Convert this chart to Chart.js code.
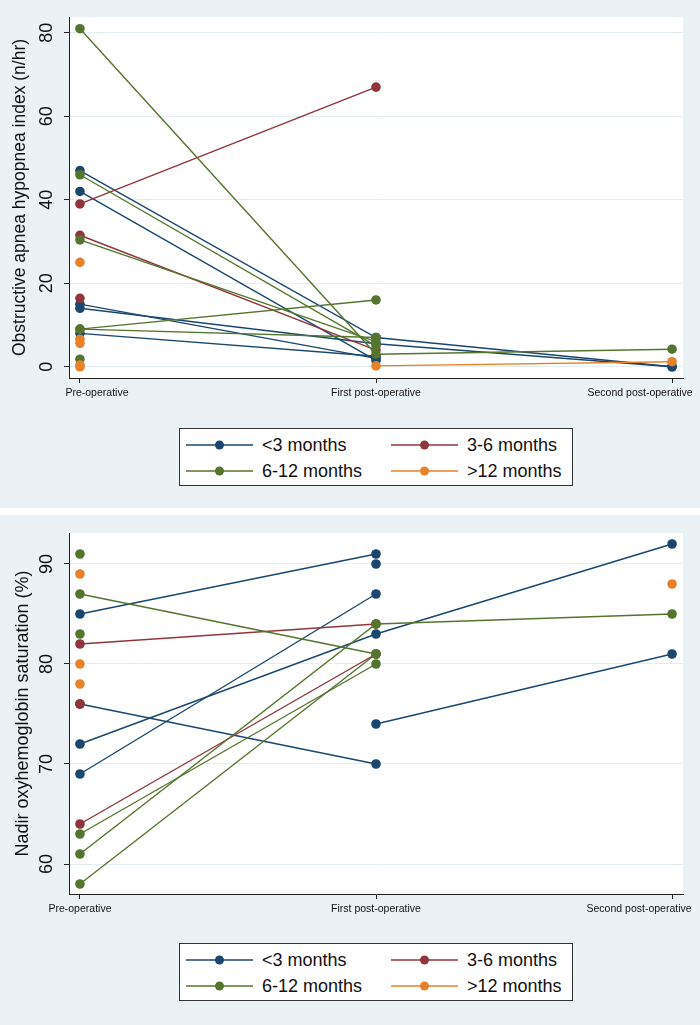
<!DOCTYPE html>
<html><head><meta charset="utf-8">
<script src="https://cdn.jsdelivr.net/npm/chart.js@4"></script>
<style>
body{margin:0;width:700px;height:1025px;background:#fff;position:relative;overflow:hidden;font-family:"Liberation Sans",Arial,sans-serif}
.panel{position:absolute;left:0;width:700px;background:#eaf2f5}
.legend{position:absolute;left:179px;top:428px;width:392px;height:56px;border:1px solid #333;background:#fff}
.item{position:absolute;height:20px;font-size:18px;color:#111;line-height:20px;white-space:nowrap}
.item svg{position:absolute;left:0;top:4px}
.item span{position:absolute;left:76px;top:0}
canvas{position:absolute;left:0;top:0}
</style>
</head><body>
<div class="panel" id="p1" style="top:0;height:508px"><canvas id="c1" width="700" height="420"></canvas><div class="legend" id="l1"></div></div>
<div class="panel" id="p2" style="top:515px;height:510px"><canvas id="c2" width="700" height="420"></canvas><div class="legend" id="l2"></div></div>
<script>
// ---- categories / labels ----
const timepoints = ['Pre-operative', 'First post-operative', 'Second post-operative'];
const groups = ['<3 months', '3-6 months', '6-12 months', '>12 months'];
const groupColors = ['#1a476f', '#90353b', '#55752f', '#e8822a'];

// ---- Obstructive apnea hypopnea index: one row per subject [pre, first post, second post] ----
const ahiLt3   = [[47, 7, 0], [42, 1.5, null], [15, 2, null], [14, 5.5, 0], [8, 2.5, null]];
const ahi3to6  = [[39, 67, null], [31.5, 4, null], [16.4, null, null]];
const ahi6to12 = [[81, 3, 4.2], [46, 5, null], [30.4, 6, null], [9, 16, null], [9, 7, null], [1.8, null, null]];
const ahiGt12  = [[25, null, null], [6.6, null, null], [5.6, null, null], [0.4, null, null], [0, null, null], [null, 0.2, 1.2]];
const ahiTicks = [0, 20, 40, 60, 80];

// ---- Nadir oxyhemoglobin saturation ----
const spoLt3   = [[85, 91, null], [76, 70, null], [72, 83, 92], [69, 87, null], [null, 90, null], [null, 74, 81]];
const spo3to6  = [[82, 84, null], [76, null, null], [64, 81, null]];
const spo6to12 = [[91, null, null], [87, 81, null], [83, null, null], [63, 80, null], [61, 84, 85], [58, 81, null]];
const spoGt12  = [[89, null, null], [80, null, null], [78, null, null], [null, null, 88]];
const spoTicks = [60, 70, 80, 90];

const FONT = '"Liberation Sans", Arial, sans-serif';

function buildDatasets(groupArrays) {
  const ds = [];
  groupArrays.forEach((subjects, g) => {
    subjects.forEach(s => {
      ds.push({
        data: s.map((v, i) => v == null ? null : {x: i, y: v}).filter(p => p),
        borderColor: groupColors[g], backgroundColor: groupColors[g],
        pointRadius: 4.8, pointBorderWidth: 0, borderWidth: 1.4,
        order: 4 - g, fill: false, tension: 0
      });
    });
  });
  return ds;
}

function panelPlugin(cfg) {
  return {
    id: 'panel' + cfg.id,
    beforeDraw(chart) {
      const a = chart.chartArea, ctx = chart.ctx;
      ctx.save(); ctx.fillStyle = '#ffffff';
      ctx.fillRect(a.left, a.top, a.right - a.left, a.bottom - a.top);
      ctx.restore();
    },
    afterDraw(chart) {
      const ctx = chart.ctx, ys = chart.scales.y, xs = chart.scales.x, a = chart.chartArea;
      ctx.save();
      ctx.fillStyle = '#111';
      ctx.font = '18px ' + FONT;
      ctx.textAlign = 'center'; ctx.textBaseline = 'middle';
      cfg.yTicks.forEach(v => {
        ctx.save();
        ctx.translate(47.5, ys.getPixelForValue(v));
        ctx.rotate(-Math.PI / 2);
        ctx.fillText(String(v), 0, 0);
        ctx.restore();
      });
      ctx.font = '10.5px ' + FONT;
      timepoints.forEach((t, i) => {
        const px = xs.getPixelForValue(i);
        ctx.fillText(t, px + cfg.xShift[i], a.bottom + 15);
      });
      ctx.restore();
    }
  };
}

function makeChart(canvasId, groupArrays, yTicks, yMin, yMax, title, titleSize, titlePad, top, xShift) {
  const H = 420;
  const bottom = top + 361;
  return new Chart(document.getElementById(canvasId), {
    type: 'line',
    data: {datasets: buildDatasets(groupArrays)},
    options: {
      responsive: false, animation: false,
      layout: {padding: {top: top, right: 17, bottom: 0, left: 0}},
      plugins: {legend: {display: false}, tooltip: {enabled: false}},
      scales: {
        x: {
          type: 'linear', min: -0.037, max: 2.037,
          afterBuildTicks: s => { s.ticks = timepoints.map((t, i) => ({value: i})); },
          ticks: {color: 'rgba(0,0,0,0)', font: {size: 10.5, family: FONT}},
          grid: {drawOnChartArea: false, drawTicks: true, tickLength: 5, tickColor: '#222'},
          border: {color: '#222', width: 1},
          afterFit: s => { s.height = H - bottom; }
        },
        y: {
          min: yMin, max: yMax,
          afterBuildTicks: s => { s.ticks = yTicks.map(v => ({value: v})); },
          ticks: {color: 'rgba(0,0,0,0)', font: {size: 18, family: FONT}},
          grid: {color: '#e3edf2', lineWidth: 1, tickColor: '#222', tickLength: 5},
          border: {color: '#222', width: 1},
          title: {display: true, text: title, color: '#111', font: {size: titleSize, family: FONT}, padding: {top: titlePad, bottom: 0}},
          afterFit: s => { s.width = 69; }
        }
      }
    },
    plugins: [panelPlugin({id: canvasId, yTicks: yTicks, xShift: xShift})]
  });
}

makeChart('c1', [ahiLt3, ahi3to6, ahi6to12, ahiGt12], ahiTicks, -2.7, 83.8,
  'Obstructive apnea hypopnea index (n/hr)', 17.5, 10, 17, [17, 0, -32]);
makeChart('c2', [spoLt3, spo3to6, spo6to12, spoGt12], spoTicks, 57, 93.1,
  'Nadir oxyhemoglobin saturation (%)', 18, 12, 18, [0, 0, -33]);

function buildLegend(id) {
  const el = document.getElementById(id);
  groups.forEach((g, i) => {
    const col = i % 2, row = Math.floor(i / 2);
    const d = document.createElement('div');
    d.className = 'item';
    d.style.left = (col ? 211 : 6) + 'px';
    d.style.top = (row ? 32 : 6) + 'px';
    const c = groupColors[i];
    d.innerHTML = '<svg width="68" height="12"><line x1="0" y1="6" x2="67" y2="6" stroke="' + c +
      '" stroke-width="1.5"/><circle cx="33.5" cy="6" r="4.5" fill="' + c + '"/></svg><span>' +
      g.replace('<', '&lt;').replace('>', '&gt;') + '</span>';
    el.appendChild(d);
  });
}
buildLegend('l1');
buildLegend('l2');
</script>
</body></html>
